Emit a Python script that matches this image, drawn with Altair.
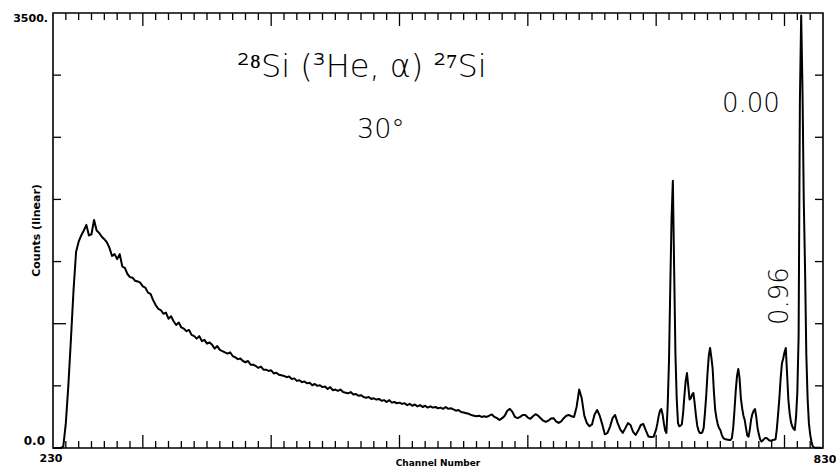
import altair as alt
import pandas as pd

# Plot-area size in pixels (the frame itself)
W, H = 770, 435

# Spectrum counts, channels 230..700 in steps of 2
counts_coarse = [
    0, 0, 0, 0, 10, 200, 510, 880, 1270, 1580,
    1660, 1710, 1750, 1795, 1710, 1720, 1835, 1750, 1730, 1700,
    1680, 1655, 1610, 1545, 1560, 1520, 1560, 1460, 1450, 1400,
    1375, 1370, 1345, 1340, 1330, 1300,
    1290, 1250, 1240, 1190, 1150, 1120, 1110, 1080, 1090, 1040,
    1060, 1020, 990, 1010, 970, 960, 940, 950, 910, 900,
    880, 900, 860, 870, 840, 850, 830, 800, 820, 790,
    780, 770, 760, 770, 740, 730, 715, 720, 700, 690,
    700, 670, 670, 660, 645, 655, 630, 630, 620, 625,
    600, 605, 590, 585, 580, 570, 575, 555, 560, 540,
    545, 530, 535, 520, 525, 505, 515, 500, 505, 490,
    495, 475, 490, 465, 470, 460, 470, 450, 445, 440,
    450, 430, 435, 420, 425, 410, 405, 410, 395, 400,
    390, 395, 380, 385, 370, 385, 365, 370, 360, 365,
    355, 360, 345, 355, 340, 350, 335, 345, 330, 340,
    325, 335, 325, 330, 320, 325, 315, 330, 315, 320,
    310, 300, 305, 290, 285, 280, 275, 265, 260, 255,
    260, 250, 255, 250, 260, 270, 250, 240, 225, 240,
    260, 300, 315, 290, 250, 240, 250, 265, 265, 245,
    235, 255, 272, 260, 240, 220, 210, 220, 238, 240,
    215, 202, 215, 240, 260, 266, 255, 250, 330, 470,
    400, 260, 200, 175, 190, 270, 306, 260, 190, 110,
    120, 170, 240, 266, 200, 150, 122, 160, 200, 185,
    130, 105, 140, 185, 193, 140, 92, 88, 90, 150,
]

# Spectrum counts, channels 701..830 one by one (peak region)
counts_fine = [
    200, 260, 300, 314, 270, 200, 140, 121, 350, 700,
    1300, 1850, 2150, 1450, 760, 400, 200, 175, 180, 190,
    280, 420, 540, 603, 500, 390, 400, 430, 443, 360,
    260, 180, 140, 121, 120, 128, 160, 280, 420, 600,
    740, 805, 730, 640, 450, 306, 240, 190, 160, 145,
    110, 85, 75, 70, 68, 66, 64, 64, 80, 160,
    300, 460, 580, 636, 560, 400, 320, 260, 225, 160,
    100, 91, 150, 230, 275, 300, 314, 250, 160, 110,
    70, 52, 60, 72, 80, 80, 72, 62, 58, 60,
    64, 66, 70, 150, 270, 400, 560, 680, 720, 770,
    805, 600, 390, 280, 210, 175, 155, 145, 250, 450,
    900, 2800, 3480, 2900, 2000, 1450, 750, 400, 200, 110,
    50, 15, 5, 3, 3, 2, 2, 2, 1, 0,
]

channels = list(range(230, 701, 2)) + list(range(701, 831))
counts = counts_coarse + counts_fine

# Tick positions
x_minor = [c for c in range(240, 830, 10) if c % 100 != 0]
x_major = [300, 400, 500, 600, 700, 800]
y_ticks = [500, 1500, 2000, 2500, 3000]
y_long = [1000]

df = pd.DataFrame({"channel": channels, "counts": counts})

xs = alt.Scale(domain=[230, 830], nice=False, zero=False)
ys = alt.Scale(domain=[0, 3500], nice=False)

spectrum = alt.Chart(df).mark_line(
    color="black", strokeWidth=2.0, strokeJoin="round"
).encode(
    x=alt.X("channel:Q", scale=xs, axis=None),
    y=alt.Y("counts:Q", scale=ys, axis=None),
)


def xticks(values, length):
    d = pd.DataFrame({"ch": values})
    bottom = alt.Chart(d).mark_rule(color="black", strokeWidth=1.3).encode(
        x=alt.X("ch:Q", scale=xs, axis=None),
        y=alt.value(H), y2=alt.value(H - length),
    )
    top = alt.Chart(d).mark_rule(color="black", strokeWidth=1.3).encode(
        x=alt.X("ch:Q", scale=xs, axis=None),
        y=alt.value(0), y2=alt.value(length),
    )
    return bottom + top


def yticks(values, left_len, right_len):
    d = pd.DataFrame({"v": values})
    left = alt.Chart(d).mark_rule(color="black", strokeWidth=1.3).encode(
        y=alt.Y("v:Q", scale=ys, axis=None),
        x=alt.value(0), x2=alt.value(left_len),
    )
    right = alt.Chart(d).mark_rule(color="black", strokeWidth=1.3).encode(
        y=alt.Y("v:Q", scale=ys, axis=None),
        x=alt.value(W), x2=alt.value(W - right_len),
    )
    return left + right


def label(text, x, y, size, align="left", baseline="alphabetic",
          weight="normal", angle=0, font="DejaVu Sans"):
    d = pd.DataFrame({"t": [text]})
    return alt.Chart(d).mark_text(
        align=align, baseline=baseline, fontSize=size, fontWeight=weight,
        font=font, angle=angle, color="black",
    ).encode(x=alt.value(x), y=alt.value(y), text="t:N")


ticks = (
    xticks(x_minor, 7) + xticks(x_major, 13)
    + yticks(y_ticks, 8, 8) + yticks(y_long, 13, 8)
)

texts = (
    label("3500.", -5, 0, 11, align="right", baseline="top", weight="bold")
    + label("0.0", -8, H, 12, align="right", baseline="bottom", weight="bold")
    + label("230", -2, H + 5, 11, align="center", baseline="top", weight="bold")
    + label("830", W + 2, H + 6, 11, align="center", baseline="top", weight="bold")
    + label("Channel Number", W / 2, H + 15, 9, align="center",
            baseline="middle", weight="bold")
    + label("Counts (linear)", -16, H / 2, 11, align="center",
            baseline="middle", weight="bold", angle=270)
    + label("²⁸Si (³He, α) ²⁷Si", 184, 64, 32, weight=200)
    + label("30°", 304, 125, 27, weight=200)
    + label("0.00", 669, 99, 26, weight=200)
    + label("0.96", 735, 312, 26, angle=270, weight=200)
)

chart = alt.layer(spectrum, ticks, texts).properties(
    width=W, height=H,
    autosize=alt.AutoSizeParams(type="none"),
    padding={"left": 53, "top": 13, "right": 13, "bottom": 23},
    background="white",
).configure_view(stroke="black", strokeWidth=1.6)

chart.save("out.html", embed_options={"renderer": "svg", "actions": False})
